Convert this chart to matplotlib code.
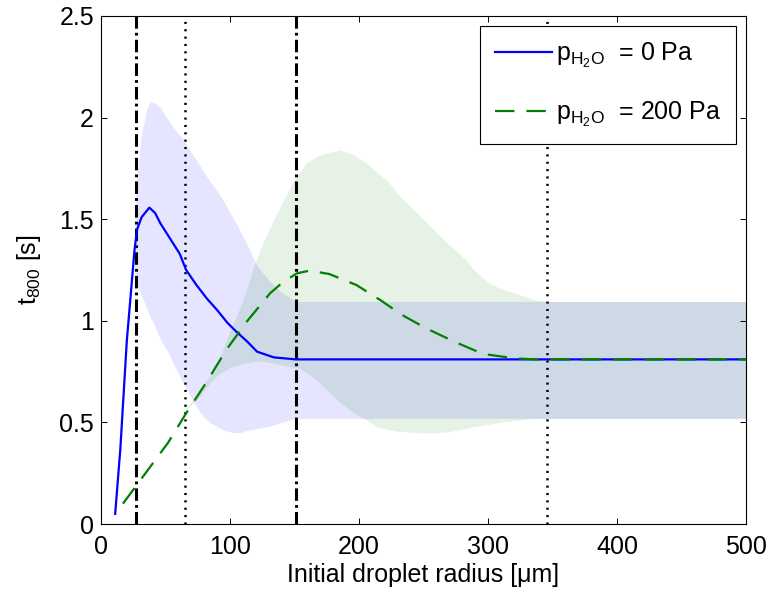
import matplotlib
matplotlib.use("Agg")
from matplotlib import pyplot as plt

plt.rcParams["font.family"] = ["Liberation Sans", "DejaVu Sans"]
plt.rcParams["mathtext.fontset"] = "custom"
plt.rcParams["mathtext.rm"] = "Liberation Sans"
plt.rcParams["mathtext.it"] = "Liberation Sans:italic"
plt.rcParams["lines.scale_dashes"] = False

# mean curves
blue_x = [11, 15, 20, 26, 28, 31.5, 37.5, 42, 46, 51, 55, 61, 66, 74, 82, 90, 98, 105, 113, 121, 134, 151, 500]
blue_y = [0.05, 0.37, 0.9, 1.35, 1.45, 1.51, 1.557, 1.53, 1.48, 1.43, 1.39, 1.33, 1.25, 1.176, 1.11, 1.053, 0.99, 0.946, 0.9, 0.848, 0.82, 0.81, 0.81]

green_x = [17, 52, 66, 82, 97, 113, 131, 141, 152, 162, 177, 198, 217, 233, 252, 274, 296, 321, 338, 500]
green_y = [0.10, 0.40, 0.545, 0.70, 0.856, 0.996, 1.135, 1.19, 1.234, 1.247, 1.23, 1.176, 1.10, 1.03, 0.963, 0.897, 0.837, 0.815, 0.81, 0.81]

# spread bands
blue_band_x = [26, 28, 31, 35, 38, 42, 46, 51, 56, 64, 70, 77, 84, 90, 96, 102, 108, 113, 118, 121, 130, 140, 151, 500]
blue_band_hi = [1.5, 1.72, 1.9, 2.03, 2.08, 2.07, 2.05, 2.0, 1.95, 1.89, 1.83, 1.76, 1.69, 1.64, 1.58, 1.51, 1.44, 1.38, 1.31, 1.27, 1.2, 1.14, 1.095, 1.095]
blue_band_lo = [1.25, 1.17, 1.13, 1.07, 1.02, 0.97, 0.91, 0.856, 0.79, 0.69, 0.62, 0.546, 0.5, 0.479, 0.46, 0.45, 0.45, 0.46, 0.465, 0.47, 0.48, 0.5, 0.52, 0.52]

green_band_x = [66, 77, 85, 92, 100, 110, 119, 126, 134, 142, 149, 154, 159, 165, 170, 178, 185, 195, 206, 214, 222, 232, 245, 258, 270, 283, 289, 300, 309, 322, 335, 346, 500]
green_band_hi = [0.57, 0.66, 0.74, 0.82, 0.95, 1.1, 1.28, 1.39, 1.5, 1.6, 1.69, 1.73, 1.775, 1.80, 1.816, 1.83, 1.84, 1.82, 1.775, 1.73, 1.69, 1.61, 1.53, 1.447, 1.373, 1.30, 1.25, 1.19, 1.16, 1.135, 1.105, 1.095, 1.095]
green_band_lo = [0.56, 0.63, 0.7, 0.74, 0.77, 0.79, 0.80, 0.80, 0.79, 0.78, 0.77, 0.765, 0.745, 0.72, 0.69, 0.64, 0.6, 0.55, 0.51, 0.48, 0.465, 0.455, 0.45, 0.448, 0.455, 0.47, 0.48, 0.49, 0.50, 0.51, 0.52, 0.52, 0.52]

dashdot_x = [27, 151]
dotted_x = [65.5, 346]

green = (0, 0.5, 0)

fig = plt.figure(figsize=(7.68, 5.96), dpi=100)
ax = fig.add_axes([0.1315, 0.1208, 0.8399, 0.8524])

ax.fill_between(blue_band_x, blue_band_lo, blue_band_hi, color="blue", alpha=0.1, linewidth=0)
ax.fill_between(green_band_x, green_band_lo, green_band_hi, color=green, alpha=0.1, linewidth=0)

for xv in dashdot_x:
    ax.axvline(xv, color="black", linewidth=2.2, dashes=(9, 3, 2, 3))
for xv in dotted_x:
    ax.axvline(xv, color="black", linewidth=1.8, dashes=(1.5, 3.8))

ax.plot(blue_x, blue_y, color="blue", linewidth=1.6, label=r"$\mathrm{p}_{\mathrm{H_2O}}$  = 0 Pa")
ax.plot(green_x, green_y, color=green, linewidth=1.6, dashes=(14, 8.6),
        label=r"$\mathrm{p}_{\mathrm{H_2O}}$  = 200 Pa")

ax.set_xlim(0, 500)
ax.set_ylim(0, 2.5)
ax.set_xticks([0, 100, 200, 300, 400, 500])
ax.set_yticks([0, 0.5, 1, 1.5, 2, 2.5])
ax.set_yticklabels(["0", "0.5", "1", "1.5", "2", "2.5"])
ax.tick_params(direction="in", top=True, right=True, length=4.5, width=0.7,
               labelsize=18)
ax.tick_params(axis="x", pad=8)
ax.tick_params(axis="y", pad=5)
for s in ax.spines.values():
    s.set_linewidth(0.8)

ax.set_xlabel("Initial droplet radius [\u03bcm]", fontsize=18, labelpad=3)
ax.set_ylabel(r"$\mathrm{t}_{\mathrm{800}}$ [s]", fontsize=18, labelpad=12)

leg = ax.legend(loc="upper right", fontsize=18, fancybox=False, framealpha=1,
                edgecolor="black", handlelength=2.3, borderaxespad=0.4,
                labelspacing=1.2, handletextpad=0.15, borderpad=0.6)
leg.get_frame().set_linewidth(0.8)

plt.savefig("out.png", dpi=100)
plt.close()
